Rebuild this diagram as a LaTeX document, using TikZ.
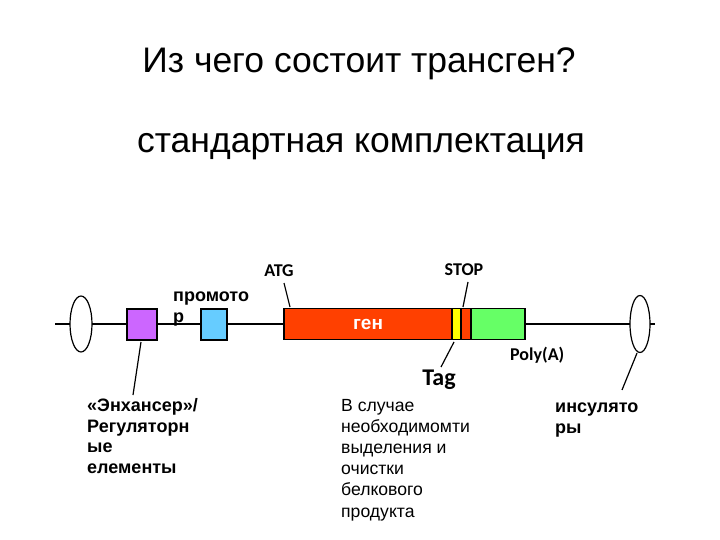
\documentclass[tikz,border=0pt]{standalone}
\usepackage{fontspec}
\setmainfont{Liberation Sans}
\newfontfamily\calib{Carlito}
\usetikzlibrary{shapes.geometric}
\definecolor{enh}{HTML}{CC66FF}
\definecolor{prom}{HTML}{66CCFF}
\definecolor{gene}{HTML}{FF4000}
\definecolor{tagc}{HTML}{FFFF00}
\definecolor{polya}{HTML}{66FF66}
\tikzset{
  box/.style={draw=black, line width=1.6pt, inner sep=0pt, minimum height=31pt},
  ins/.style={draw=black, line width=1.2pt, ellipse, inner sep=0pt, fill=white},
  lbl/.style={inner sep=0pt, font=\bfseries\fontsize{18}{20.5}\selectfont, align=left},
  clbl/.style={inner sep=0pt, font=\calib\bfseries\fontsize{18}{20}\selectfont},
  txt/.style={inner sep=0pt, font=\fontsize{17.6}{21.2}\selectfont, align=left},
  ttl/.style={inner sep=0pt, font=\fontsize{35.5}{40}\selectfont},
  pin/.style={line width=1.2pt}
}
\begin{document}
\begin{tikzpicture}[x=1pt,y=-1pt]
\useasboundingbox (0,0) rectangle (720,540);
% titles
\node[ttl, anchor=base] (t1) at (359,73) {Из чего состоит трансген?};
\node[ttl, anchor=base] (t2) at (361,153) {стандартная комплектация};
% main line
\coordinate (L) at (55,324);
\coordinate (R) at (655,324);
\draw[line width=1.6pt] (L) -- (R);
% insulators
\node[ins, minimum width=22pt, minimum height=56pt] (insL) at (81,324) {};
\node[ins, minimum width=20pt, minimum height=57pt] (insR) at (640,324) {};
% elements
\node[box, fill=enh, minimum width=30pt] (enh) at (142,324.5) {};
\node[box, fill=prom, minimum width=26pt] (prom) at (214,324.5) {};
\node[box, fill=gene, minimum width=168pt, text=white, font=\bfseries\fontsize{19}{20}\selectfont] (gen) at (368,324) {ген};
\node[box, fill=tagc, minimum width=9pt] (tag) at (456.5,324) {};
\node[box, fill=gene, minimum width=10pt] (stop) at (466,324) {};
\node[box, fill=polya, minimum width=54pt] (pa) at (498,324) {};
% labels
\node[clbl, anchor=base] (atg) at (279,276) {ATG};
\node[clbl, anchor=base] (stopl) at (464,275) {STOP};
\node[clbl, anchor=base west] (pal) at (510,360) {Poly(A)};
\node[inner sep=0pt, anchor=base, font=\calib\bfseries\fontsize{24}{26}\selectfont] (tagl) at (439,385) {Tag};
\node[lbl, anchor=base west, font=\bfseries\fontsize{18}{21}\selectfont] (proml) at (173,322) {промото\\р};
\node[lbl, anchor=base west] (enhl) at (87,473) {«Энхансер»/\\Регуляторн\\ые\\елементы};
\node[lbl, anchor=base west] (insl) at (555,433) {инсулято\\ры};
\node[txt, anchor=base west] (tagtxt) at (341,517) {В случае\\необходимомти\\выделения и\\очистки\\белкового\\продукта};
% pointer lines
\draw[pin] (284,283) -- (290,307);
\draw[pin] (468,282) -- (463,307);
\draw[pin] (454,342) -- (441,367);
\draw[pin] (141,342) -- (133,395);
\draw[pin] (insR.south) ++(-3,0) -- (622,390);
\end{tikzpicture}
\end{document}
